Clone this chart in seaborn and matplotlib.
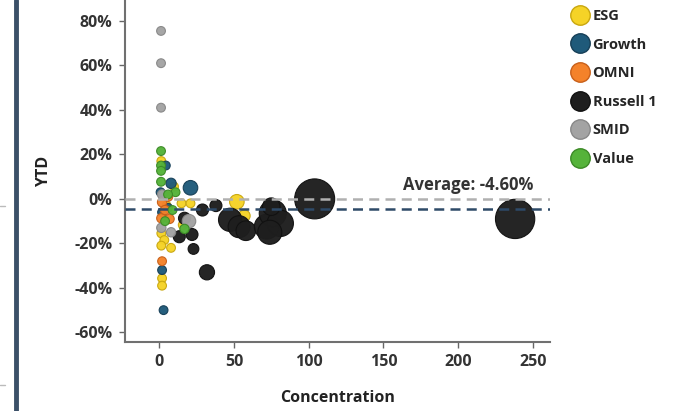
import pandas as pd
import seaborn as sns
import matplotlib.pyplot as plt
from matplotlib.lines import Line2D
from matplotlib.ticker import FuncFormatter

# values
groups = ['ESG', 'Growth', 'OMNI', 'Russell 1', 'SMID', 'Value']
colors = ['#F5D327', '#1F5A7A', '#F4822A', '#1E1E1E', '#A3A3A3', '#55B33A']
edges = ['#C9A70F', '#163F57', '#C8601A', '#111111', '#888888', '#3C8A26']

esg_x = [1.5, 10, 15, 21, 16, 1.5, 3.5, 1.5, 8, 2, 2, 52, 57, 5]
esg_y = [17, 5.5, -2, -2, -11.7, -15.5, -18.5, -21, -22, -35.7, -39, -1.3, -7.6, -3]
esg_s = [40, 40, 40, 40, 45, 40, 40, 40, 40, 40, 40, 110, 70, 40]

growth_x = [4.5, 8, 21, 2, 2, 3, 6, 1]
growth_y = [15, 7, 5, -6, -32, -50, -4, 3]
growth_s = [40, 55, 110, 40, 40, 40, 40, 40]

omni_x = [2, 1.5, 7, 2, 4, 6]
omni_y = [-1.5, -8.7, -9, -28, -5, 1]
omni_s = [45, 45, 45, 40, 45, 45]

russell_x = [29, 38, 17, 13.5, 22, 23, 32, 47.5, 53.5, 58, 72, 76, 81, 75, 74, 104, 238]
russell_y = [-5, -3, -8.7, -17, -16, -22.5, -33, -9.4, -12.5, -14.3, -12.5, -6.5, -11, -3.5, -15, 0, -9]
russell_s = [75, 75, 75, 75, 75, 60, 120, 280, 250, 200, 320, 380, 360, 160, 300, 830, 800]

smid_x = [1.3, 1.3, 1.3, 2, 20, 1.5, 8]
smid_y = [75.5, 61, 41, 2, -10, -13, -15]
smid_s = [40, 40, 40, 45, 95, 45, 45]

value_x = [1.3, 1.3, 1.3, 1.3, 11, 9, 17, 4, 6]
value_y = [21.5, 15, 12.6, 7.7, 3, -5, -13.5, -10, 2]
value_s = [40, 40, 40, 40, 40, 40, 45, 40, 40]

average = -4.60

rows = []
for g, xs, ys, ss in zip(groups,
                         [esg_x, growth_x, omni_x, russell_x, smid_x, value_x],
                         [esg_y, growth_y, omni_y, russell_y, smid_y, value_y],
                         [esg_s, growth_s, omni_s, russell_s, smid_s, value_s]):
    for x, y, s in zip(xs, ys, ss):
        rows.append({'Group': g, 'Concentration': x, 'YTD': y, 'Size': s})
df = pd.DataFrame(rows)

sns.set_style('white')
plt.rcParams['font.family'] = ['Open Sans', 'DejaVu Sans']

fig = plt.figure(figsize=(6.8, 4.11), dpi=100)
ax = fig.add_axes([0.184, 0.168, 0.625, 0.832])

for g, c, e in zip(groups, colors, edges):
    sub = df[df['Group'] == g]
    sns.scatterplot(data=sub, x='Concentration', y='YTD', size='Size',
                    sizes=(sub['Size'].min(), sub['Size'].max()),
                    size_norm=(sub['Size'].min(), sub['Size'].max()),
                    color=c, edgecolor=e, linewidth=0.8, alpha=0.97,
                    legend=False, ax=ax, zorder=3)

ax.axhline(0, color='#B0B0B0', lw=1.8, ls=(0, (4, 2.5)), zorder=4)
ax.axhline(average, color='#2E4A68', lw=1.8, ls=(0, (4, 2.5)), zorder=4)
ax.text(250, 6.3, f'Average: {average:.2f}%', ha='right', va='center',
        fontsize=12, fontweight='bold', color='#333333')

ax.set_xlim(-22.7, 261.4)
ax.set_ylim(-64.3, 89.4)
ax.set_xticks([0, 50, 100, 150, 200, 250])
ax.set_yticks([-60, -40, -20, 0, 20, 40, 60, 80])
ax.yaxis.set_major_formatter(FuncFormatter(lambda v, p: f'{v:.0f}%'))
for lab in ax.get_xticklabels() + ax.get_yticklabels():
    lab.set_fontweight('bold')
ax.tick_params(axis='both', labelsize=11.5, colors='#666666', labelcolor='#333333',
               length=4, width=1, direction='out', left=True, bottom=True, pad=5)
ax.set_xlabel('Concentration', fontsize=11.5, fontweight='bold', color='#222222', labelpad=14)
ax.set_ylabel('YTD', fontsize=11.5, fontweight='bold', color='#222222', labelpad=16)
sns.despine(ax=ax)
for sp in ['left', 'bottom']:
    ax.spines[sp].set_color('#707070')
    ax.spines[sp].set_linewidth(1.5)

handles = [Line2D([], [], marker='o', ls='', markersize=14, markerfacecolor=c,
                  markeredgecolor=e, markeredgewidth=1) for c, e in zip(colors, edges)]
fig.legend(handles, groups, loc='upper left', bbox_to_anchor=(0.821, 1.01),
           frameon=False, prop={'weight': 'bold', 'size': 10.5},
           labelspacing=1.0, handletextpad=0.25, handlelength=1.2)

# dashboard frame bits on the left edge
fig.add_artist(Line2D([16 / 680, 16 / 680], [0, 1], color='#3B5068', lw=3.5))
fig.add_artist(Line2D([0, 5 / 680], [1 - 206 / 411] * 2, color='#BBBBBB', lw=1))
fig.add_artist(Line2D([0, 5 / 680], [1 - 385 / 411] * 2, color='#BBBBBB', lw=1))

fig.savefig('out.png', dpi=100)
